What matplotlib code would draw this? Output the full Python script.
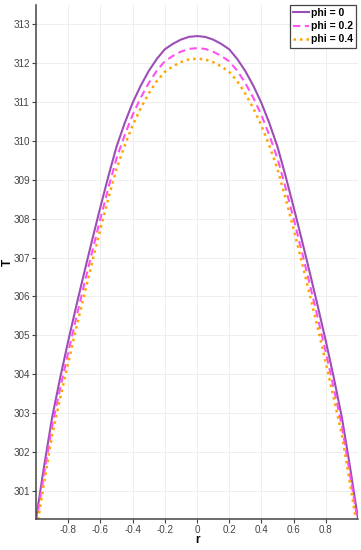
import matplotlib
matplotlib.use("Agg")
import matplotlib.pyplot as plt

# radial position (right half; the profiles are symmetric about r = 0)
r_half = [0.0, 0.05, 0.1, 0.15, 0.2, 0.25, 0.3, 0.35, 0.4, 0.45, 0.5,
          0.55, 0.6, 0.65, 0.7, 0.75, 0.8, 0.85, 0.9, 0.95, 1.0]

# temperature at those r values
T_phi0_half = [312.70, 312.68, 312.61, 312.50, 312.36, 312.11, 311.80, 311.42, 310.98, 310.45, 309.85,
               309.10, 308.30, 307.47, 306.62, 305.75, 304.85, 303.90, 302.88, 301.62, 300.27]
T_phi02_half = [312.39, 312.37, 312.30, 312.19, 312.05, 311.81, 311.49, 311.11, 310.67, 310.14, 309.55,
                308.80, 308.00, 307.17, 306.32, 305.45, 304.56, 303.63, 302.66, 301.42, 300.17]
T_phi04_half = [312.12, 312.10, 312.03, 311.92, 311.78, 311.54, 311.22, 310.84, 310.40, 309.87, 309.28,
                308.53, 307.73, 306.90, 306.05, 305.19, 304.29, 303.37, 302.43, 301.20, 299.92]

labels = ["phi = 0", "phi = 0.2", "phi = 0.4"]
x_ticks = [-0.8, -0.6, -0.4, -0.2, 0, 0.2, 0.4, 0.6, 0.8]
x_ticklabels = ["-0.8", "-0.6", "-0.4", "-0.2", "0", "0.2", "0.4", "0.6", "0.8"]
y_ticks = list(range(301, 314))

# mirror to the full -1..1 profile
r = [-v for v in r_half[:0:-1]] + r_half
T_phi0 = T_phi0_half[:0:-1] + T_phi0_half
T_phi02 = T_phi02_half[:0:-1] + T_phi02_half
T_phi04 = T_phi04_half[:0:-1] + T_phi04_half

plt.rcParams["font.family"] = ["Liberation Sans", "DejaVu Sans"]

fig = plt.figure(figsize=(3.61, 5.5), dpi=100)
ax = fig.add_axes([36 / 361, 31 / 550, 322 / 361, 514 / 550])

ax.plot(r, T_phi0, color="#9b4fb6", lw=1.5, label=labels[0])
ax.plot(r, T_phi02, color="#ff50f2", lw=1.5, ls=(0, (3.5, 2.2)), label=labels[1])
ax.plot(r, T_phi04, color="#ffa500", lw=1.8, ls=(0, (1, 1.6)), label=labels[2])

ax.set_xlim(-1.0, 1.0)
ax.set_ylim(300.27, 313.5)
ax.set_xticks(x_ticks)
ax.set_xticklabels(x_ticklabels)
ax.set_yticks(y_ticks)

ax.grid(True, color="#eeeeee", lw=0.7)
ax.set_axisbelow(True)
for s in ["top", "right"]:
    ax.spines[s].set_visible(False)
for s in ["left", "bottom"]:
    ax.spines[s].set_color("#444444")
    ax.spines[s].set_linewidth(1.1)

ax.tick_params(axis="both", length=3, width=0.8, color="#444444",
               labelsize=7.1, labelcolor="#444444", pad=1.5)

ax.set_xlabel("r", fontsize=8.5, fontweight="bold")
ax.set_ylabel("T", fontsize=8.5, fontweight="bold")
ax.xaxis.set_label_coords(0.5, -0.03)
ax.yaxis.set_label_coords(-0.068, 0.5)

leg = ax.legend(loc="upper right", bbox_to_anchor=(0.993, 1.0),
                prop={"weight": "bold", "size": 7.5},
                handlelength=1.5, handletextpad=0.2, labelspacing=0.3,
                borderpad=0.3, borderaxespad=0.0, fancybox=False, framealpha=1)
leg.get_frame().set_edgecolor("#444444")
leg.get_frame().set_linewidth(0.9)

fig.savefig("out.png", dpi=100)
